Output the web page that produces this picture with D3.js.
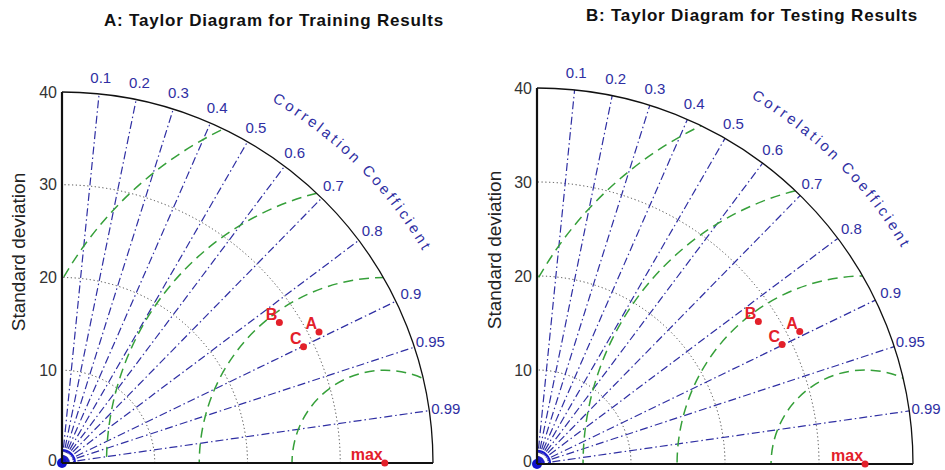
<!DOCTYPE html>
<html>
<head>
<meta charset="utf-8">
<title>Taylor Diagrams</title>
<script src="https://d3js.org/d3.v7.min.js"></script>
<style>
body { margin: 0; background: #fff; }
svg { display: block; font-family: Arial, "Liberation Sans", sans-serif; }
</style>
</head>
<body>
<svg id="chart" width="945" height="470"></svg>
<script>
// values
var modelNames = ["A", "B", "C", "max"];
var trainStd  = [31.1, 27.9, 28.9, 34.8];
var trainCorr = [0.891, 0.840, 0.901, 1.0];
var testStd   = [31.3, 28.0, 29.0, 34.9];
var testCorr  = [0.893, 0.841, 0.899, 1.0];

var corrTicks = [0.1, 0.2, 0.3, 0.4, 0.5, 0.6, 0.7, 0.8, 0.9, 0.95, 0.99];
var stdTicks  = [0, 10, 20, 30, 40];
var stdCircles = [10, 20, 30];
var rmsLevels = [10, 20, 30, 40];
var maxStd = 40;

var svg = d3.select("#chart");

var blue = "#2f2fa3";
var green = "#36a03a";
var red = "#e3202a";

function drawPanel(cfg) {
	var g = svg.append("g").attr("transform", "translate(" + cfg.ox + "," + cfg.oy + ")");
	var r = d3.scaleLinear().domain([0, maxStd]).range([0, cfg.R]);
	var R = r(maxStd);

	// position for a std / correlation pair
	var pos = function (s, c) {
		return [r(s) * c, -r(s) * Math.sqrt(1 - c * c)];
	};

	var quarter = function (rad) {
		var p = d3.path();
		p.moveTo(rad, 0);
		p.arc(0, 0, rad, 0, -Math.PI / 2, true);
		return p.toString();
	};

	g.append("clipPath").attr("id", "clip" + cfg.key)
		.append("path").attr("d", quarter(R) + "L0,0Z");

	// std dotted arcs
	g.selectAll("path.std").data(stdCircles).enter().append("path")
		.attr("class", "std")
		.attr("d", function (d) { return quarter(r(d)); })
		.attr("fill", "none").attr("stroke", "#444").attr("stroke-width", 1)
		.attr("stroke-dasharray", "1.2,2.6");

	// correlation rays
	g.selectAll("line.corr").data(corrTicks).enter().append("line")
		.attr("class", "corr")
		.attr("x1", 0).attr("y1", 0)
		.attr("x2", function (d) { return pos(maxStd, d)[0]; })
		.attr("y2", function (d) { return pos(maxStd, d)[1]; })
		.attr("stroke", blue).attr("stroke-width", 1.2)
		.attr("stroke-dasharray", "8,3,1.5,3");

	// centred RMS circles round the reference point
	var refStd = cfg.std[cfg.std.length - 1];
	g.append("g").attr("clip-path", "url(#clip" + cfg.key + ")")
		.selectAll("circle").data(rmsLevels).enter().append("circle")
		.attr("cx", r(refStd)).attr("cy", 0)
		.attr("r", function (d) { return r(d); })
		.attr("fill", "none").attr("stroke", green).attr("stroke-width", 1.5)
		.attr("stroke-dasharray", "10,6");

	// small blue rings at the origin
	[0.7, 1.4].forEach(function (d) {
		g.append("path").attr("d", quarter(r(d)))
			.attr("fill", "none").attr("stroke", "#1a1ad0").attr("stroke-width", 2);
	});
	g.append("circle").attr("r", 5).attr("fill", "#1010cc");

	// outer arc and axes
	g.append("path").attr("d", quarter(R))
		.attr("fill", "none").attr("stroke", "#111").attr("stroke-width", 1.3);
	g.append("line").attr("x1", 0).attr("y1", 0).attr("x2", 0).attr("y2", -R)
		.attr("stroke", "#111").attr("stroke-width", 2.2);
	g.append("line").attr("x1", 0).attr("y1", 0).attr("x2", R).attr("y2", 0)
		.attr("stroke", "#111").attr("stroke-width", 2.2);

	// std tick labels
	g.selectAll("text.ytick").data(stdTicks).enter().append("text")
		.attr("class", "ytick")
		.attr("x", -5).attr("y", function (d) { return -r(d); })
		.attr("dy", function (d) { return d === 0 ? "0.2em" : "0.35em"; })
		.attr("text-anchor", "end")
		.attr("font-size", 16).attr("fill", "#333")
		.text(function (d) { return d; });

	// correlation labels
	g.selectAll("text.ctick").data(corrTicks).enter().append("text")
		.attr("class", "ctick")
		.attr("x", function (d) { return pos(41.8, d)[0]; })
		.attr("y", function (d) { return pos(41.8, d)[1]; })
		.attr("dy", "0.35em").attr("text-anchor", "middle")
		.attr("font-size", 15).attr("fill", blue)
		.text(function (d) { return d; });

	// curved axis title
	var rho = r(45.1);
	var a1 = 66 * Math.PI / 180, a2 = 24 * Math.PI / 180;
	g.append("path").attr("id", "arcTitle" + cfg.key)
		.attr("d", "M" + rho * Math.cos(a1) + "," + (-rho * Math.sin(a1)) +
			"A" + rho + "," + rho + " 0 0 1 " + rho * Math.cos(a2) + "," + (-rho * Math.sin(a2)))
		.attr("fill", "none");
	g.append("text").attr("font-size", 15).attr("fill", blue)
		.attr("letter-spacing", 3)
		.append("textPath").attr("href", "#arcTitle" + cfg.key)
		.attr("startOffset", "50%").attr("text-anchor", "middle")
		.text("Correlation Coefficient");

	// model points
	var pts = modelNames.map(function (n, i) {
		var p = pos(cfg.std[i], cfg.corr[i]);
		return { name: n, x: p[0], y: p[1] };
	});
	g.selectAll("circle.pt").data(pts).enter().append("circle")
		.attr("class", "pt")
		.attr("cx", function (d) { return d.x; })
		.attr("cy", function (d) { return d.y; })
		.attr("r", 3.5).attr("fill", red);
	g.selectAll("text.pt").data(pts).enter().append("text")
		.attr("class", "pt")
		.attr("x", function (d) { return d.x - 2; })
		.attr("y", function (d) { return d.y - 3; })
		.attr("text-anchor", "end").attr("font-size", 16).attr("font-weight", "bold")
		.attr("fill", red)
		.text(function (d) { return d.name; });

	// y axis title
	svg.append("text")
		.attr("transform", "translate(" + cfg.ylx + "," + cfg.yly + ") rotate(-90)")
		.attr("text-anchor", "middle").attr("dy", "0.35em")
		.attr("font-size", 19).attr("fill", "#222")
		.text("Standard deviation");

	// panel title
	svg.append("text")
		.attr("x", cfg.tx).attr("y", cfg.ty).attr("dy", "0.35em")
		.attr("text-anchor", "middle").attr("font-size", 17).attr("font-weight", "bold")
		.attr("letter-spacing", 0.8)
		.attr("fill", "#111")
		.text(cfg.title);
}

drawPanel({ key: "A", ox: 62, oy: 463, R: 371, std: trainStd, corr: trainCorr,
	title: "A: Taylor Diagram for Training Results", tx: 274, ty: 20, ylx: 18, yly: 252 });
drawPanel({ key: "B", ox: 537, oy: 464, R: 376, std: testStd, corr: testCorr,
	title: "B: Taylor Diagram for Testing Results", tx: 752, ty: 15, ylx: 494, yly: 250 });
</script>
</body>
</html>
